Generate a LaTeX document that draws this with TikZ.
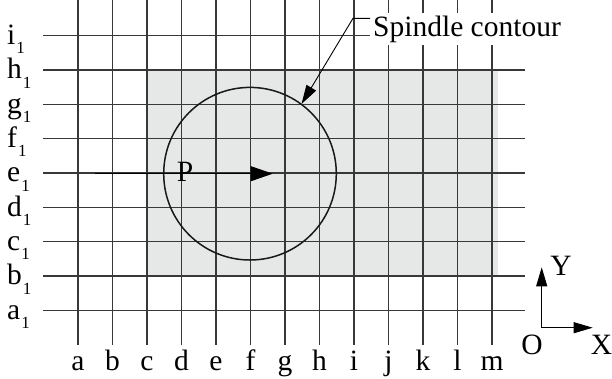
\documentclass[tikz,border=0pt]{standalone}
\usepackage{fontspec}
\setmainfont{Liberation Serif}
\usetikzlibrary{arrows.meta}
\definecolor{shadegray}{RGB}{230,231,231}
\begin{document}
\begin{tikzpicture}[x=1pt,y=-1pt,
  grid/.style={black!78, line width=1.1pt},
  lbl/.style={font=\fontsize{29.5}{29.5}\selectfont, inner sep=0pt},
  contour/.style={black!90, line width=1.5pt},
  arr/.style={black, line width=1pt, -{Triangle[length=22pt,width=15pt]}},
  sarr/.style={black, line width=0.9pt, -{Triangle[length=19pt,width=11pt]}}]
\useasboundingbox (0,0) rectangle (612,378);
% shaded area
\fill[shadegray] (147,70.7) rectangle (497.5,276);
% columns
\foreach \l [count=\i from 0] in {a,b,c,d,e,f,g,h,i,j,k,l,m}{
  \pgfmathsetmacro{\xx}{78+34.5*\i}
  \draw[grid] (\xx,0) -- (\xx,345);
  \node[lbl, anchor=base] (col\l) at (\xx,370) {\l};
}
% rows
\foreach \l [count=\i from 0] in {a,b,c,d,e,f,g,h,i}{
  \pgfmathsetmacro{\yy}{310.3-34.33*\i}
  \draw[grid] (43,\yy) -- (525,\yy);
  \node[lbl, anchor=base west] (row\l) at (7,\yy+8.7) {\l\kern1pt\raisebox{-9.5pt}{\fontsize{17}{17}\selectfont 1}};
}
% spindle contour
\coordinate (ctr) at (250,173.7);
\draw[contour] (ctr) circle[radius=86.3pt];
% P arrow
\coordinate (pstart) at (95,173.7);
\coordinate (pend) at (272.7,173.7);
\draw[arr] (pstart) -- (pend);
\node[lbl] (P) at (185,172) {P};
% label
\node[lbl, fill=white, anchor=base west, inner sep=3pt] (sc) at (370,36) {Spindle contour};
\coordinate (knee) at (353,18.3);
\coordinate (tip) at (301.5,104);
\draw[sarr] (sc.west |- knee) -- (knee) -- (tip);
% axes
\coordinate (O) at (541.7,327.7);
\coordinate (Yend) at (541.7,267.3);
\coordinate (Xend) at (592.7,327.7);
\draw[sarr] (O) -- (Yend);
\draw[sarr] (O) -- (Xend);
\node[lbl, anchor=base] (Olbl) at (532,354) {O};
\node[lbl, anchor=base] (Xlbl) at (601.5,354) {X};
\node[lbl, anchor=base] (Ylbl) at (561,275) {Y};
\end{tikzpicture}
\end{document}
